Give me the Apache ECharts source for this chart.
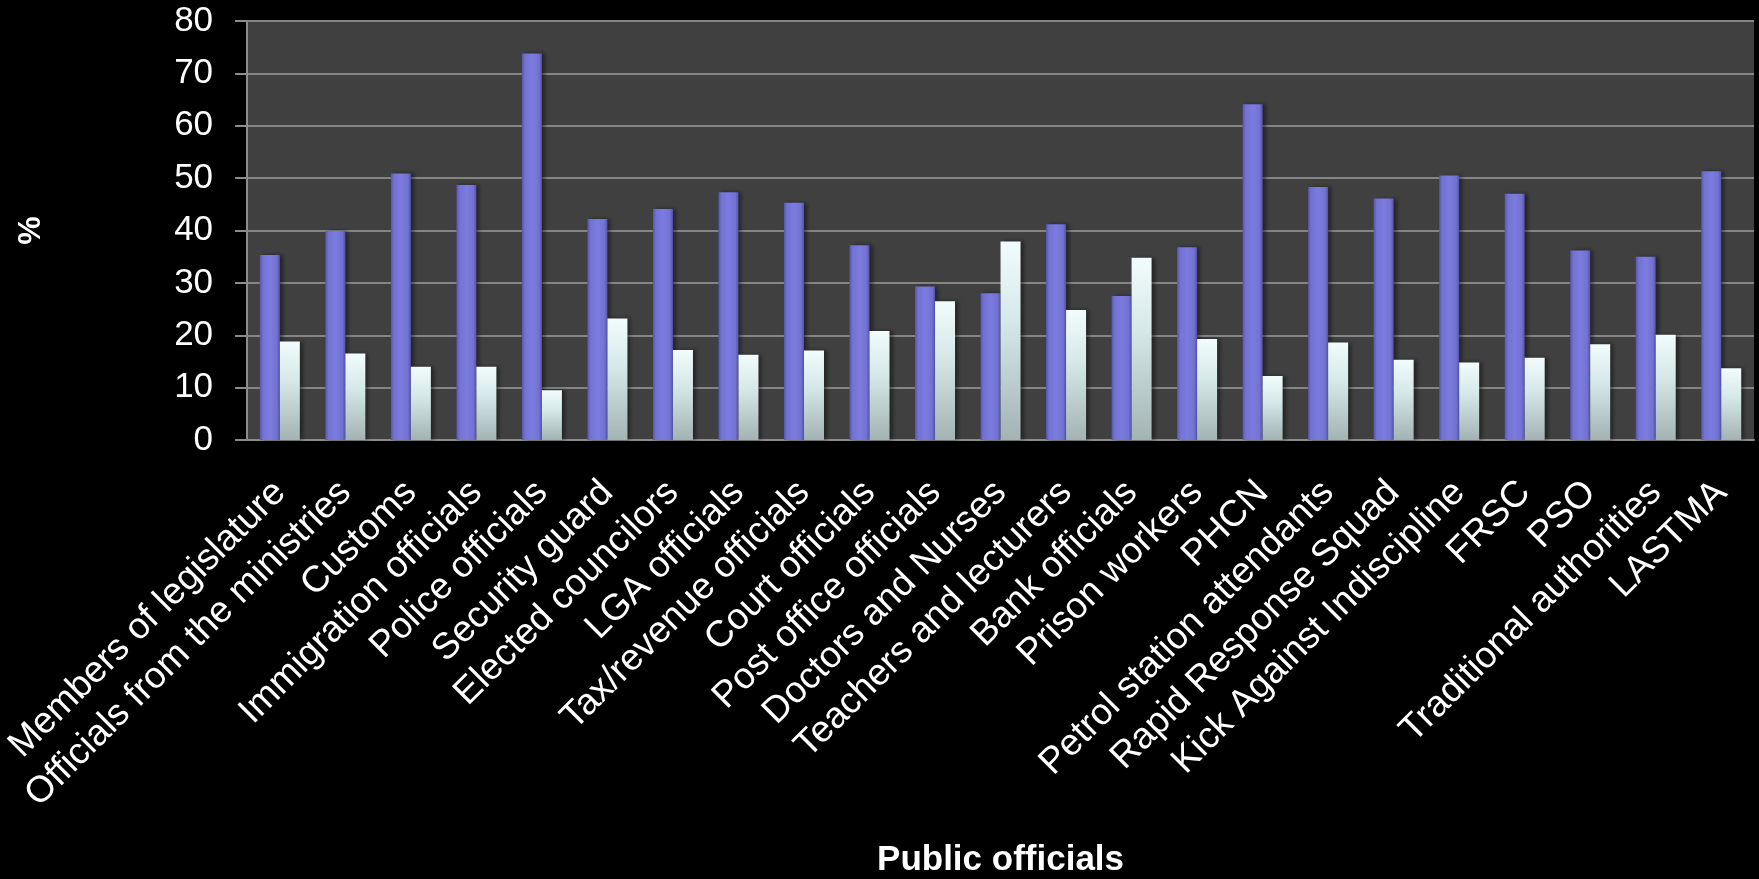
<!DOCTYPE html>
<html>
<head>
<meta charset="utf-8">
<script src="https://cdn.jsdelivr.net/npm/echarts@6/dist/echarts.min.js"></script>
<style>
html,body{margin:0;padding:0;background:#000;}
#chart{width:1759px;height:879px;}
</style>
</head>
<body>
<div id="chart"></div>
<script>
const categories = [
  "Members of legislature",
  "Officials from the ministries",
  "Customs",
  "Immigration officials",
  "Police officials",
  "Security guard",
  "Elected councilors",
  "LGA officials",
  "Tax/revenue officials",
  "Court officials",
  "Post office officials",
  "Doctors and Nurses",
  "Teachers and lecturers",
  "Bank officials",
  "Prison workers",
  "PHCN",
  "Petrol station attendants",
  "Rapid Response Squad",
  "Kick Against Indiscipline",
  "FRSC",
  "PSO",
  "Traditional authorities",
  "LASTMA"
];
const seriesBlue = [35.3, 39.9, 50.9, 48.7, 73.8, 42.2, 44.1, 47.3, 45.3, 37.2, 29.3, 28.0, 41.2, 27.5, 36.8, 64.1, 48.3, 46.1, 50.5, 47.0, 36.2, 35.0, 51.3];
const seriesWhite = [18.8, 16.5, 14.0, 14.0, 9.5, 23.2, 17.2, 16.3, 17.1, 20.8, 26.5, 37.9, 24.8, 34.8, 19.3, 12.2, 18.6, 15.3, 14.8, 15.7, 18.3, 20.1, 13.7];
const yTicks = [0, 10, 20, 30, 40, 50, 60, 70, 80];

const chart = echarts.init(document.getElementById('chart'), null, {renderer: 'canvas'});
const font = '"Liberation Sans", Arial, sans-serif';
const blueGrad = new echarts.graphic.LinearGradient(0, 0, 1, 0, [
  {offset: 0, color: '#5656ad'},
  {offset: 0.15, color: '#7272d2'},
  {offset: 0.5, color: '#7c7ce0'},
  {offset: 0.85, color: '#7272d2'},
  {offset: 1, color: '#5252a6'}
]);
const whiteGrad = new echarts.graphic.LinearGradient(0, 0, 0, 1, [
  {offset: 0, color: '#f2fcfc'},
  {offset: 0.4, color: '#d6e8e8'},
  {offset: 1, color: '#a3b3b3'}
]);
chart.setOption({
  backgroundColor: '#000000',
  animation: false,
  grid: {
    left: 247, right: 5, top: 21, bottom: 439,
    show: true, backgroundColor: '#404040', borderWidth: 0
  },
  xAxis: {
    type: 'category',
    data: categories,
    name: 'Public officials',
    nameLocation: 'middle',
    nameGap: 403,
    nameTextStyle: {color: '#ffffff', fontFamily: font, fontSize: 35, fontWeight: 'bold'},
    axisLine: {show: true, lineStyle: {color: '#8c8c8c', width: 2}},
    axisTick: {show: false},
    axisLabel: {
      color: '#ffffff', fontFamily: font, fontSize: 37, rotate: 45,
      interval: 0, margin: 47
    }
  },
  yAxis: {
    type: 'value',
    min: yTicks[0], max: yTicks[yTicks.length - 1], interval: 10,
    name: '%',
    nameLocation: 'middle',
    nameRotate: 90,
    nameGap: 200,
    nameTextStyle: {color: '#ffffff', fontFamily: font, fontSize: 32, fontWeight: 'bold'},
    axisLine: {show: true, lineStyle: {color: '#8c8c8c', width: 2}},
    axisTick: {show: true, length: 12, lineStyle: {color: '#8c8c8c', width: 2}},
    axisLabel: {color: '#ffffff', fontFamily: font, fontSize: 35, margin: 34},
    splitLine: {show: true, lineStyle: {color: '#858585', width: 2}}
  },
  series: [
    {
      name: 'Series 1', type: 'bar', data: seriesBlue,
      barWidth: 20, barGap: '0%',
      itemStyle: {color: blueGrad, shadowColor: 'rgba(0,0,0,0.45)', shadowBlur: 4, shadowOffsetX: 3}
    },
    {
      name: 'Series 2', type: 'bar', data: seriesWhite,
      barWidth: 20, barGap: '0%',
      itemStyle: {color: whiteGrad, shadowColor: 'rgba(0,0,0,0.45)', shadowBlur: 4, shadowOffsetX: 3}
    }
  ]
});
</script>
</body>
</html>
